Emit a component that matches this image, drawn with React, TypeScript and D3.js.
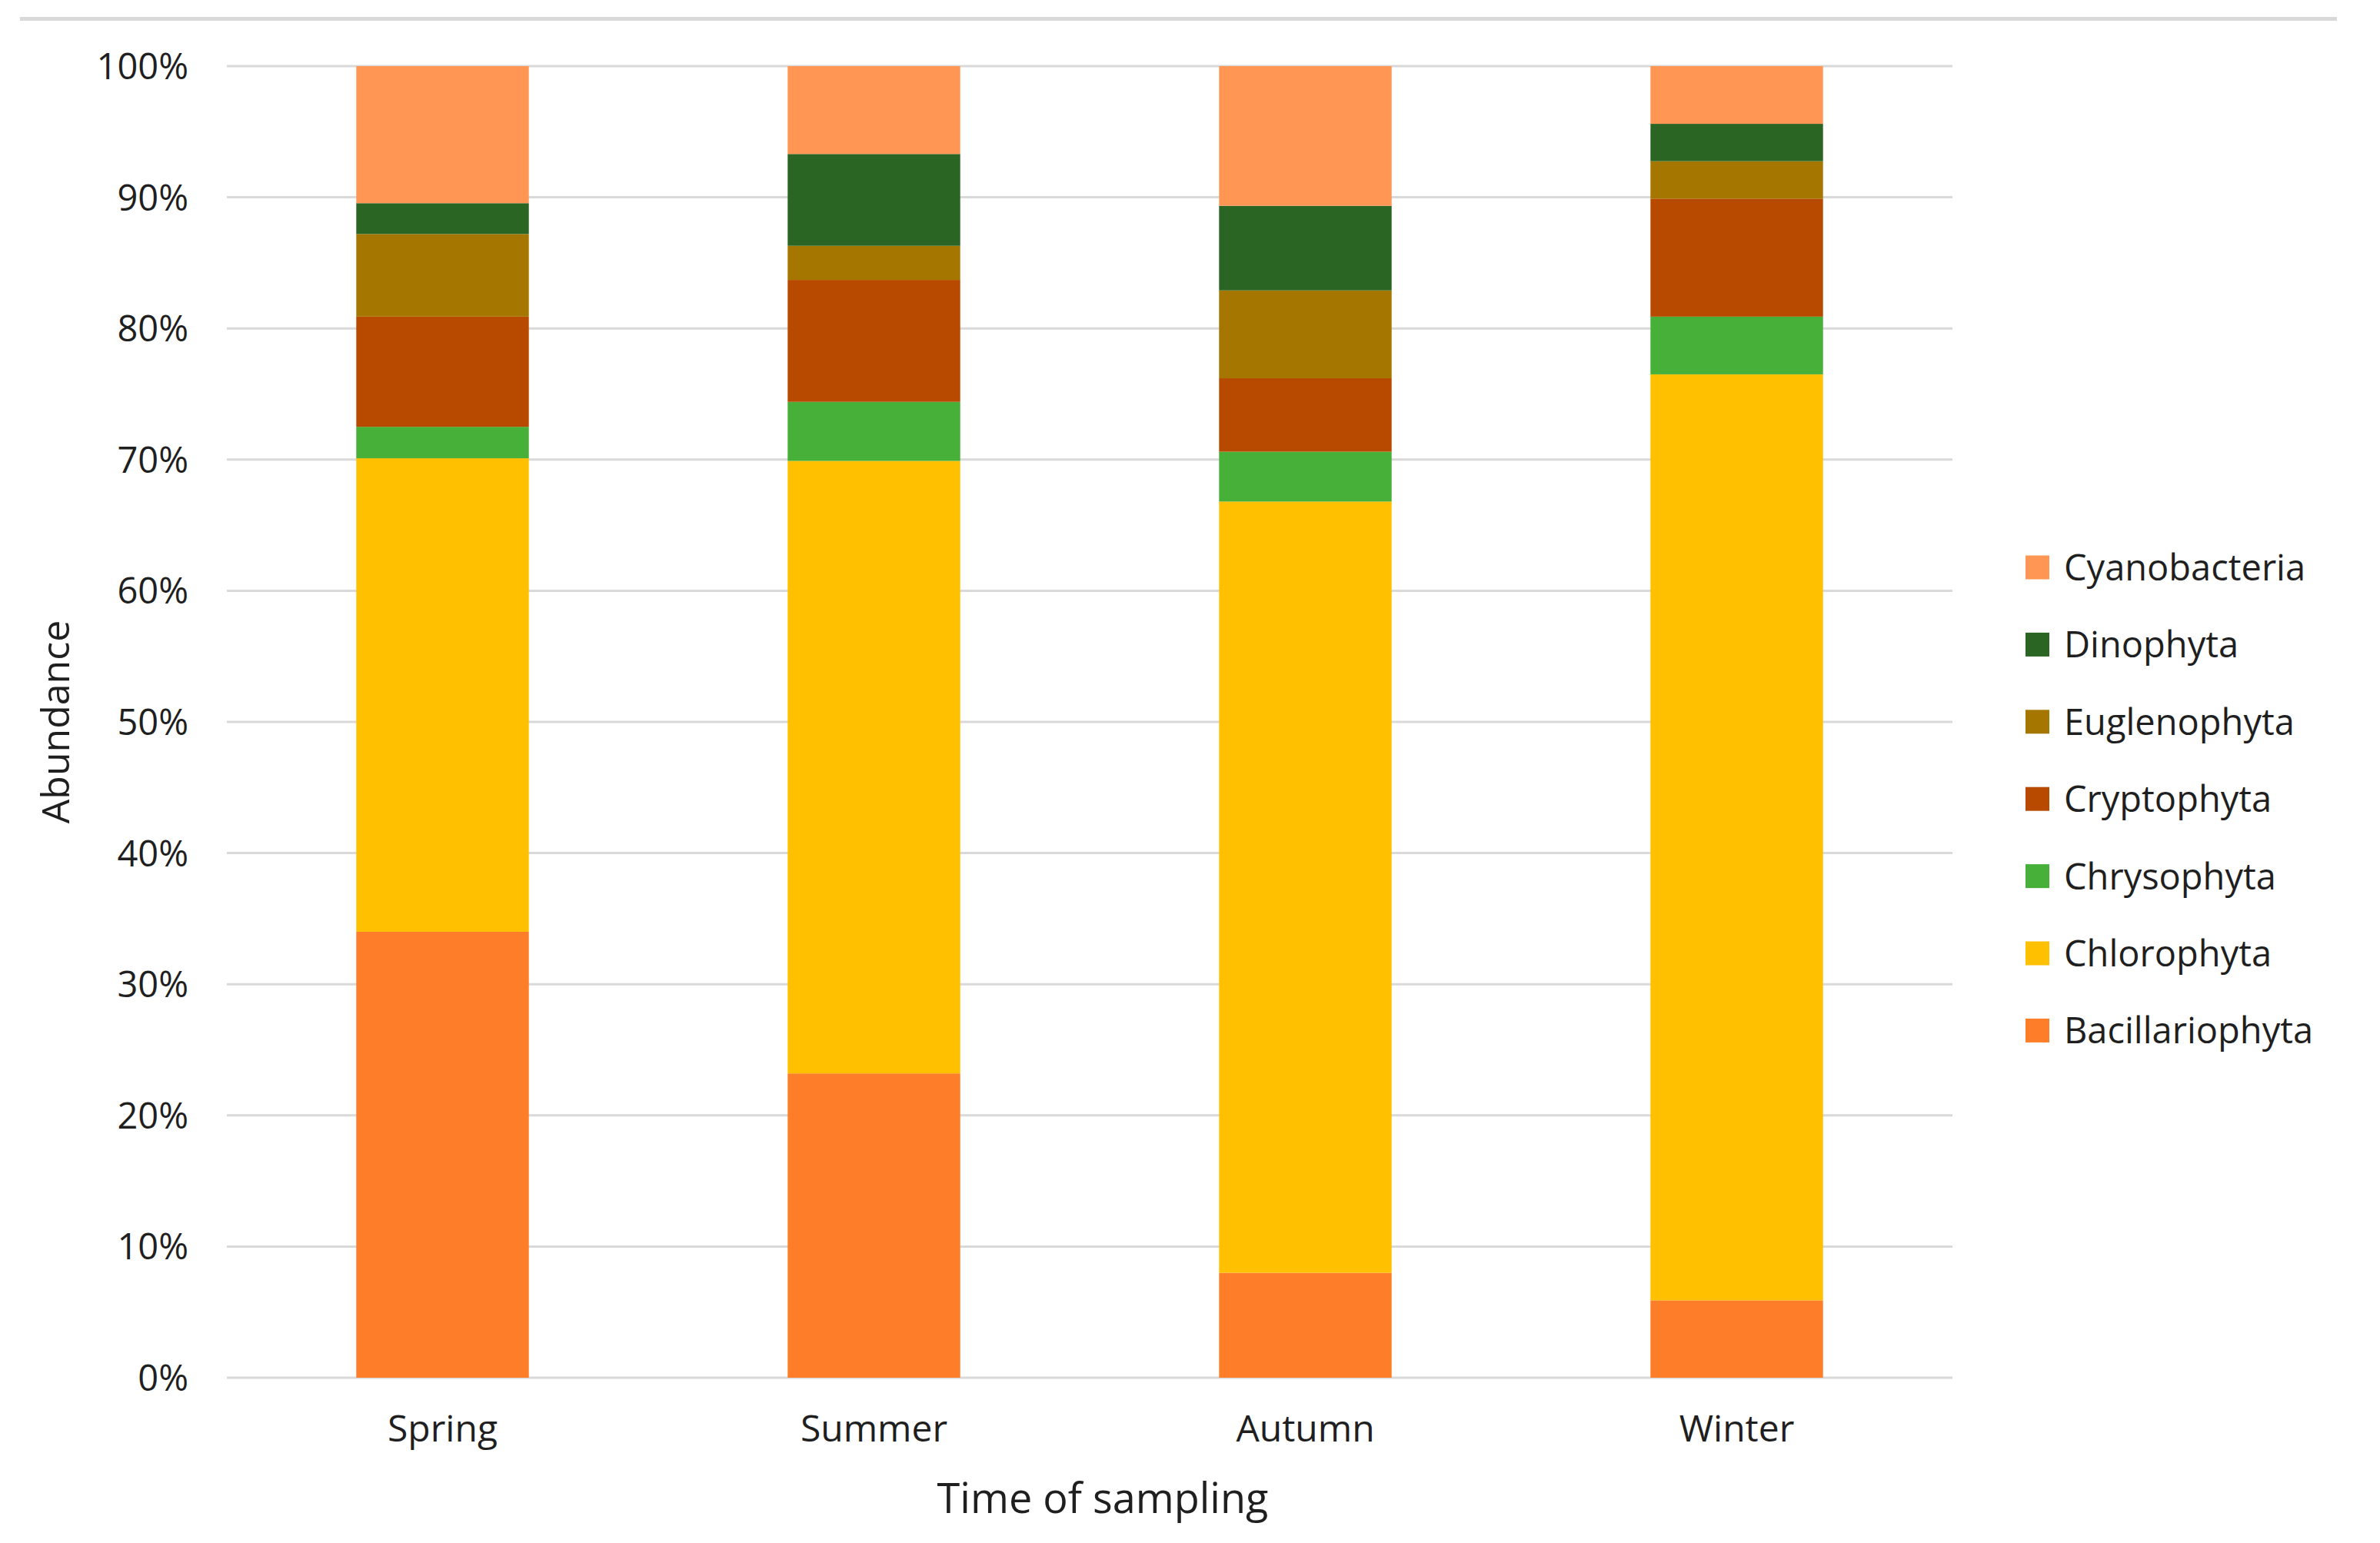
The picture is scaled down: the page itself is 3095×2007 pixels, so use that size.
import React, { useEffect, useRef } from "react";
import * as d3 from "d3";

// seasons on the x axis
const seasons = ["Spring", "Summer", "Autumn", "Winter"];

// stack order, bottom to top
const groups = [
  "Bacillariophyta",
  "Chlorophyta",
  "Chrysophyta",
  "Cryptophyta",
  "Euglenophyta",
  "Dinophyta",
  "Cyanobacteria",
];

// abundance in % per season (Spring, Summer, Autumn, Winter)
const bacillariophyta = [34.0, 23.2, 8.0, 5.9];
const chlorophyta = [36.1, 46.7, 58.8, 70.6];
const chrysophyta = [2.4, 4.5, 3.8, 4.4];
const cryptophyta = [8.4, 9.3, 5.6, 9.0];
const euglenophyta = [6.3, 2.6, 6.7, 2.85];
const dinophyta = [2.35, 7.0, 6.45, 2.85];
const cyanobacteria = [10.45, 6.7, 10.65, 4.4];

const yTicks = [0, 10, 20, 30, 40, 50, 60, 70, 80, 90, 100];

const colors: Record<string, string> = {
  Bacillariophyta: "#FE7D28",
  Chlorophyta: "#FFC000",
  Chrysophyta: "#46B039",
  Cryptophyta: "#B84A00",
  Euglenophyta: "#A57600",
  Dinophyta: "#2B6524",
  Cyanobacteria: "#FF9653",
};

const W = 3095;
const H = 2007;
const FONT = "'Open Sans', 'Noto Sans', sans-serif";
const TEXT = "#1f1f1f";

const App: React.FC = () => {
  const svgRef = useRef<SVGSVGElement | null>(null);

  useEffect(() => {
    document.body.style.margin = "0";
    if (!svgRef.current) return;

    const svg = d3.select(svgRef.current);
    svg.selectAll("*").remove();

    const plot = { left: 295, right: 2539, top: 86, bottom: 1792 };

    const series = [
      bacillariophyta,
      chlorophyta,
      chrysophyta,
      cryptophyta,
      euglenophyta,
      dinophyta,
      cyanobacteria,
    ];
    const rows = seasons.map((s, i) => {
      const row: Record<string, any> = { season: s };
      groups.forEach((g, j) => (row[g] = series[j][i]));
      return row;
    });

    const stacked = d3.stack<Record<string, any>>().keys(groups)(rows);

    const x = d3
      .scaleBand<string>()
      .domain(seasons)
      .range([plot.left, plot.right])
      .paddingInner(0.6)
      .paddingOuter(0.3);

    const y = d3
      .scaleLinear()
      .domain([0, 100])
      .range([plot.bottom, plot.top]);

    // top border line
    svg
      .append("rect")
      .attr("x", 26)
      .attr("y", 22)
      .attr("width", 3039 - 26)
      .attr("height", 5)
      .attr("fill", "#D9D9D9");

    // gridlines
    svg
      .append("g")
      .selectAll("line")
      .data(yTicks)
      .enter()
      .append("line")
      .attr("x1", plot.left)
      .attr("x2", plot.right)
      .attr("y1", (d) => y(d))
      .attr("y2", (d) => y(d))
      .attr("stroke", "#D9D9D9")
      .attr("stroke-width", 3);

    // y tick labels
    svg
      .append("g")
      .selectAll("text")
      .data(yTicks)
      .enter()
      .append("text")
      .attr("x", 245)
      .attr("y", (d) => y(d))
      .attr("dy", "0.36em")
      .attr("text-anchor", "end")
      .attr("font-family", FONT)
      .attr("font-size", 47)
      .attr("fill", TEXT)
      .text((d) => `${d}%`);

    // stacked bars
    svg
      .append("g")
      .selectAll("g")
      .data(stacked)
      .enter()
      .append("g")
      .attr("fill", (d) => colors[d.key])
      .selectAll("rect")
      .data((d) => d)
      .enter()
      .append("rect")
      .attr("x", (d) => x(d.data.season) as number)
      .attr("width", x.bandwidth())
      .attr("y", (d) => y(d[1]))
      .attr("height", (d) => y(d[0]) - y(d[1]));

    // x labels
    svg
      .append("g")
      .selectAll("text")
      .data(seasons)
      .enter()
      .append("text")
      .attr("x", (d) => (x(d) as number) + x.bandwidth() / 2)
      .attr("y", 1875)
      .attr("text-anchor", "middle")
      .attr("font-family", FONT)
      .attr("font-size", 48)
      .attr("fill", TEXT)
      .text((d) => d);

    // axis titles
    svg
      .append("text")
      .attr("x", 1434)
      .attr("y", 1968)
      .attr("text-anchor", "middle")
      .attr("font-family", FONT)
      .attr("font-size", 54)
      .attr("fill", TEXT)
      .text("Time of sampling");

    svg
      .append("text")
      .attr("transform", `translate(90, ${(plot.top + plot.bottom) / 2}) rotate(-90)`)
      .attr("text-anchor", "middle")
      .attr("font-family", FONT)
      .attr("font-size", 50)
      .attr("fill", TEXT)
      .text("Abundance");

    // legend (reverse of stack order)
    const legendItems = groups.slice().reverse();
    const legend = svg
      .append("g")
      .selectAll("g")
      .data(legendItems)
      .enter()
      .append("g")
      .attr("transform", (d, i) => `translate(2634, ${738 + i * 100.4})`);

    legend
      .append("rect")
      .attr("x", 0)
      .attr("y", -15.5)
      .attr("width", 31)
      .attr("height", 31)
      .attr("fill", (d) => colors[d]);

    legend
      .append("text")
      .attr("x", 50)
      .attr("y", 0)
      .attr("dy", "0.36em")
      .attr("font-family", FONT)
      .attr("font-size", 47)
      .attr("fill", TEXT)
      .text((d) => d);
  }, []);

  return (
    <svg
      ref={svgRef}
      width={W}
      height={H}
      viewBox={`0 0 ${W} ${H}`}
      style={{ display: "block", background: "#fff" }}
    />
  );
};

export default App;
